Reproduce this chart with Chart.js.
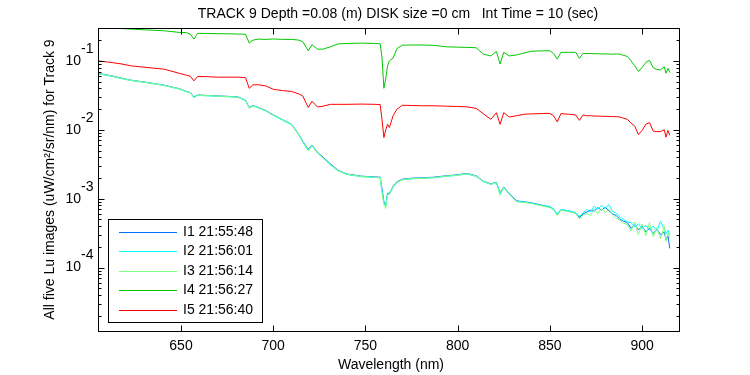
<!DOCTYPE html>
<html>
<head>
<meta charset="utf-8">
<script src="https://cdn.jsdelivr.net/npm/chart.js@4.4.1/dist/chart.umd.min.js"></script>
<style>
  body { margin: 0; background: #ffffff; }
  #wrap { width: 750px; height: 375px; }
</style>
</head>
<body>
<div id="wrap"><canvas id="chart" width="750" height="375"></canvas></div>
<script>
// wavelength (nm) shared by all five spectra
var wl = [605, 612, 618, 623, 632, 641, 649, 653, 655, 657,
          659, 664, 670, 676, 681, 685, 687, 689, 692, 696,
          700, 705, 710, 714, 716, 719, 721, 724, 727, 731,
          735, 740, 748, 755, 758, 759, 760, 761, 762, 763,
          765, 767, 770, 775, 781, 787, 794, 800, 805, 810,
          814, 818, 821, 823, 825, 828, 832, 836, 840, 846,
          850, 852, 854, 856, 860, 864, 866, 868, 870, 872,
          874, 876, 878, 880, 882, 884, 886, 888, 890, 892,
          894, 896, 898, 900, 902, 904, 906, 908, 910, 912,
          913, 914, 915];

var seriesNames = ["I1 21:55:48", "I2 21:56:01", "I3 21:56:14", "I4 21:56:27", "I5 21:56:40"];

var lu1 = [0.0656, 0.061, 0.056, 0.0524, 0.0485, 0.0443, 0.0395, 0.036, 0.0347, 0.0299,
           0.0320, 0.0315, 0.0310, 0.0305, 0.0299, 0.0268, 0.0210, 0.0225, 0.0210, 0.0190,
           0.0165, 0.0140, 0.0120, 0.0085, 0.0068, 0.0052, 0.0060, 0.0047, 0.0040, 0.0032,
           0.0026, 0.00228, 0.00212, 0.00207, 0.00205, 0.0014, 0.00090, 0.00080, 0.00120, 0.00119,
           0.00151, 0.00175, 0.00192, 0.00198, 0.00201, 0.00205, 0.00215, 0.00222, 0.00232, 0.00215,
           0.00179, 0.00164, 0.00173, 0.00121, 0.00148, 0.00118, 0.00093, 0.00090, 0.00087, 0.00080,
           0.00076, 0.00070, 0.00059, 0.00069, 0.00066, 0.00062, 0.00053, 0.00060, 0.00064, 0.00068,
           0.00066, 0.00074, 0.00068, 0.00075, 0.00066, 0.00060, 0.00057, 0.00050, 0.00047, 0.00045,
           0.00037, 0.00042, 0.00035, 0.00040, 0.00033, 0.00037, 0.00031, 0.00036, 0.00030, 0.00033,
           0.00025, 0.00029, 0.00019];

var lu2 = [0.0650, 0.060, 0.055, 0.0518, 0.0480, 0.0438, 0.0390, 0.0356, 0.0343, 0.0296,
           0.0316, 0.0311, 0.0306, 0.0301, 0.0295, 0.0265, 0.0207, 0.0222, 0.0207, 0.0187,
           0.0162, 0.0138, 0.0118, 0.0083, 0.0067, 0.0051, 0.0059, 0.0046, 0.0039, 0.0031,
           0.00255, 0.00224, 0.00208, 0.00203, 0.00201, 0.0013, 0.00088, 0.00078, 0.00117, 0.00116,
           0.00148, 0.00171, 0.00188, 0.00194, 0.00197, 0.00201, 0.00211, 0.00218, 0.00228, 0.00211,
           0.00176, 0.00161, 0.00170, 0.00119, 0.00145, 0.00116, 0.00091, 0.00089, 0.00086, 0.00079,
           0.00077, 0.00071, 0.00060, 0.00070, 0.00067, 0.00063, 0.00055, 0.00062, 0.00070, 0.00064,
           0.00078, 0.00070, 0.00080, 0.00072, 0.00082, 0.00065, 0.00062, 0.00054, 0.00050, 0.00046,
           0.00045, 0.00039, 0.00043, 0.00037, 0.00041, 0.00035, 0.00040, 0.00034, 0.00047, 0.00036,
           0.00031, 0.00035, 0.00030];

var lu3 = [0.0653, 0.0605, 0.0555, 0.0521, 0.0482, 0.0440, 0.0392, 0.0358, 0.0345, 0.0290,
           0.0318, 0.0313, 0.0308, 0.0303, 0.0297, 0.0266, 0.0205, 0.0223, 0.0208, 0.0188,
           0.0163, 0.0139, 0.0119, 0.0084, 0.0066, 0.0049, 0.0059, 0.0046, 0.0039, 0.0031,
           0.00257, 0.00226, 0.00210, 0.00204, 0.00202, 0.0012, 0.00082, 0.00072, 0.00116, 0.00115,
           0.00147, 0.00172, 0.00189, 0.00195, 0.00198, 0.00202, 0.00212, 0.00219, 0.00229, 0.00212,
           0.00177, 0.00162, 0.00171, 0.00112, 0.00146, 0.00115, 0.00090, 0.00088, 0.00085, 0.00078,
           0.00074, 0.00069, 0.00057, 0.00068, 0.00065, 0.00061, 0.00051, 0.00058, 0.00061, 0.00057,
           0.00070, 0.00060, 0.00072, 0.00063, 0.00070, 0.00058, 0.00052, 0.00049, 0.00044, 0.00042,
           0.00034, 0.00046, 0.00030, 0.00043, 0.00029, 0.00045, 0.00028, 0.00038, 0.00026, 0.00040,
           0.00024, 0.00032, 0.00027];

var lu4 = [0.34, 0.299, 0.294, 0.289, 0.281, 0.273, 0.259, 0.257, 0.245, 0.207,
           0.251, 0.250, 0.248, 0.247, 0.245, 0.243, 0.181, 0.200, 0.207, 0.205,
           0.208, 0.205, 0.205, 0.200, 0.190, 0.140, 0.172, 0.148, 0.148, 0.160,
           0.176, 0.179, 0.181, 0.179, 0.177, 0.110, 0.040, 0.055, 0.085, 0.100,
           0.110, 0.150, 0.169, 0.170, 0.170, 0.168, 0.160, 0.158, 0.157, 0.155,
           0.125, 0.118, 0.137, 0.090, 0.133, 0.118, 0.122, 0.130, 0.138, 0.140,
           0.140, 0.128, 0.106, 0.133, 0.133, 0.133, 0.109, 0.128, 0.128, 0.128,
           0.127, 0.127, 0.126, 0.126, 0.126, 0.125, 0.126, 0.125, 0.120, 0.116,
           0.100, 0.085, 0.070, 0.080, 0.095, 0.102, 0.080, 0.075, 0.074, 0.082,
           0.066, 0.078, 0.068];

var lu5 = [0.100, 0.095, 0.090, 0.0846, 0.080, 0.0757, 0.066, 0.062, 0.060, 0.0512,
           0.0593, 0.059, 0.058, 0.058, 0.058, 0.057, 0.040, 0.0448, 0.045, 0.0433,
           0.0387, 0.037, 0.036, 0.033, 0.031, 0.021, 0.026, 0.0214, 0.022, 0.0234,
           0.0234, 0.0234, 0.0236, 0.0234, 0.0232, 0.014, 0.0077, 0.0100, 0.012, 0.0108,
           0.016, 0.0198, 0.0227, 0.0225, 0.0223, 0.0223, 0.0220, 0.0218, 0.0215, 0.0205,
           0.017, 0.0142, 0.0177, 0.0120, 0.0177, 0.0153, 0.0160, 0.0168, 0.0170, 0.0172,
           0.0173, 0.016, 0.0130, 0.0172, 0.0168, 0.0164, 0.0137, 0.0164, 0.0160, 0.0160,
           0.0158, 0.0158, 0.0157, 0.0157, 0.0156, 0.0155, 0.0155, 0.0153, 0.0147, 0.0142,
           0.0125, 0.0113, 0.0085, 0.0098, 0.0120, 0.0127, 0.0096, 0.0094, 0.0094, 0.0100,
           0.0078, 0.0098, 0.0083];

var allLu = [lu1, lu2, lu3, lu4, lu5];
var colors = ["#0073ff", "#00ffff", "#80ff80", "#00c800", "#ff0000"];

var xTicks = [650, 700, 750, 800, 850, 900];
var yExps = [-1, -2, -3, -4];

var titleText = "TRACK 9 Depth =0.08 (m) DISK size =0 cm   Int Time = 10 (sec)";
var xTitle = "Wavelength (nm)";
var yTitle = "All five Lu images (uW/cm\u00b2/sr/nm) for Track 9";

var FONT = '14px "Liberation Sans", Arial, sans-serif';

var datasets = [];
for (var s = 0; s < allLu.length; s++) {
    var pts = [];
    for (var i = 0; i < wl.length; i++) {
        pts.push({x: wl[i], y: allLu[s][i]});
    }
    datasets.push({
        label: seriesNames[s],
        data: pts,
        borderColor: colors[s],
        borderWidth: 1,
        pointRadius: 0,
        tension: 0,
        fill: false,
        order: allLu.length - s   // later series drawn on top, like matlab
    });
}

// matlab style box, inward ticks, labels and legend
var matlabAxes = {
    id: 'matlabAxes',
    afterDraw: function(chart) {
        var ctx = chart.ctx;
        var a = chart.chartArea;
        var xs = chart.scales.x;
        var ys = chart.scales.y;
        var L = Math.round(a.left) + 0.5, R = Math.round(a.right) + 0.5;
        var T = Math.round(a.top) + 0.5, B = Math.round(a.bottom) + 0.5;

        ctx.save();
        ctx.strokeStyle = '#000';
        ctx.lineWidth = 1;
        ctx.strokeRect(L, T, R - L, B - T);

        ctx.beginPath();
        xTicks.forEach(function(v) {
            var px = Math.round(xs.getPixelForValue(v)) + 0.5;
            ctx.moveTo(px, B); ctx.lineTo(px, B - 6);
            ctx.moveTo(px, T); ctx.lineTo(px, T + 6);
        });
        // log ticks, majors at decades, minors 2..9
        for (var e = -6; e <= 0; e++) {
            for (var k = 1; k <= 9; k++) {
                var v = k * Math.pow(10, e);
                if (v < ys.min || v > ys.max) continue;
                var py = Math.round(ys.getPixelForValue(v)) + 0.5;
                var len = (k == 1) ? 6 : 3;
                ctx.moveTo(L, py); ctx.lineTo(L + len, py);
                ctx.moveTo(R, py); ctx.lineTo(R - len, py);
            }
        }
        ctx.stroke();

        ctx.fillStyle = '#000';
        ctx.font = FONT;
        ctx.textAlign = 'center';
        ctx.textBaseline = 'middle';
        xTicks.forEach(function(v) {
            ctx.fillText(String(v), xs.getPixelForValue(v), 346);
        });
        yExps.forEach(function(n) {
            var py = ys.getPixelForValue(Math.pow(10, n));
            ctx.textAlign = 'right';
            ctx.fillText('10', 81, py);
            ctx.textAlign = 'left';
            ctx.fillText(String(n), 81, py - 12);
        });

        ctx.textAlign = 'center';
        ctx.fillText(titleText, 398, 14);
        ctx.fillText(xTitle, 391, 365);

        ctx.save();
        ctx.translate(50, (a.top + a.bottom) / 2);
        ctx.rotate(-Math.PI / 2);
        ctx.fillText(yTitle, 0, 0);
        ctx.restore();

        // legend box
        ctx.fillStyle = '#fff';
        ctx.fillRect(108.5, 219.5, 154, 103);
        ctx.strokeRect(108.5, 219.5, 154, 103);
        for (var j = 0; j < seriesNames.length; j++) {
            var ly = Math.round(231.7 + j * 19.5) + 0.5;
            ctx.strokeStyle = colors[j];
            ctx.beginPath();
            ctx.moveTo(119, ly); ctx.lineTo(177, ly);
            ctx.stroke();
            ctx.fillStyle = '#000';
            ctx.textAlign = 'left';
            ctx.fillText(seriesNames[j], 183, ly);
        }
        ctx.restore();
    }
};

var chart = new Chart('chart', {
    type: 'line',
    data: { datasets: datasets },
    options: {
        responsive: false,
        animation: false,
        layout: { padding: { left: 98, right: 71, top: 28, bottom: 44 } },
        plugins: {
            legend: { display: false },
            tooltip: { enabled: false }
        },
        scales: {
            x: { type: 'linear', min: 605, max: 920, display: false },
            y: { type: 'logarithmic', min: 1.2e-5, max: 0.3, display: false }
        }
    },
    plugins: [matlabAxes]
});
</script>
</body>
</html>
